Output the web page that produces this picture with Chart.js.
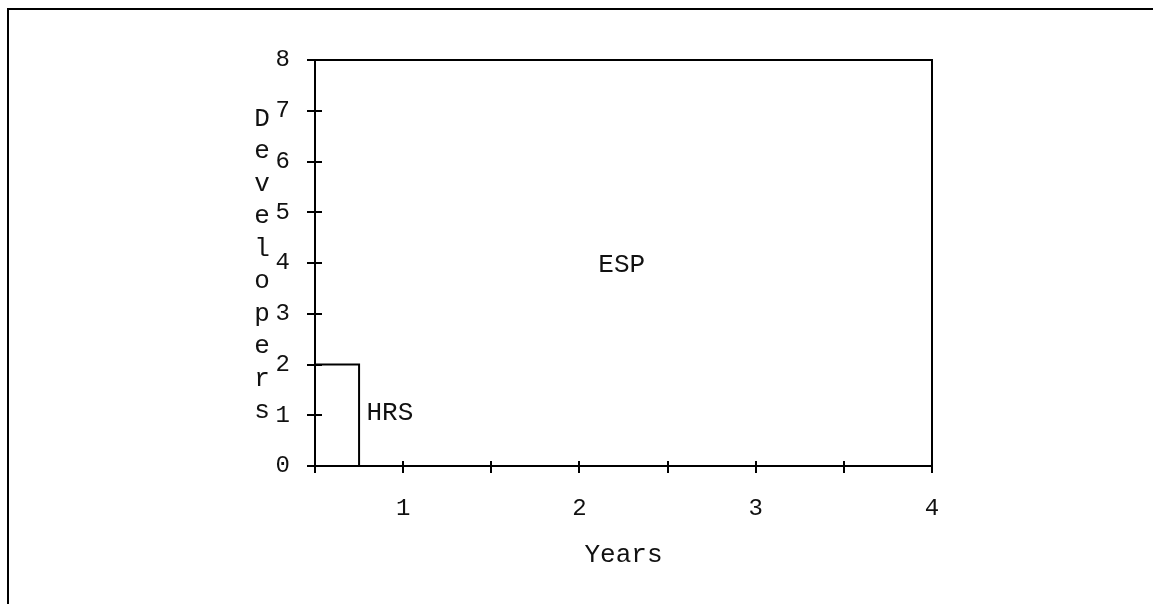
<!DOCTYPE html>
<html><head><meta charset="utf-8">
<script src="https://cdn.jsdelivr.net/npm/chart.js@4.4.1/dist/chart.umd.min.js"></script>
<style>html,body{margin:0;padding:0;background:#fff;} canvas{display:block;}</style>
</head><body>
<canvas id="c" width="1153" height="604"></canvas>
<script>
// ---- data ----
const xTickLabels = ['1', '2', '3', '4'];          // labelled years
const hrsX = [0.5, 0.75, 0.75];                     // HRS staffing step
const hrsY = [2, 2, 0];
const regionLabels = ['ESP', 'HRS'];
const regionLabelX = [2.24, 0.925];
const regionLabelY = [3.95, 1.05];
const xTitle = 'Years';
const yTitle = 'Developers';

const FONT = '"Liberation Mono", "Courier New", monospace';

const decor = {
  id: 'decor',
  beforeDraw(chart) {
    const ctx = chart.ctx;
    ctx.save();
    ctx.fillStyle = '#fff';
    ctx.fillRect(0, 0, chart.width, chart.height);
    ctx.strokeStyle = '#000';
    ctx.lineWidth = 2;
    ctx.beginPath();
    ctx.moveTo(8, chart.height);
    ctx.lineTo(8, 9);
    ctx.lineTo(chart.width, 9);
    ctx.stroke();
    ctx.restore();
  },
  afterDraw(chart) {
    const { ctx, chartArea: a, scales: { x, y } } = chart;
    ctx.save();
    ctx.strokeStyle = '#000';
    ctx.lineWidth = 2;
    ctx.strokeRect(a.left, a.top, a.right - a.left, a.bottom - a.top);
    ctx.beginPath();
    x.ticks.forEach(t => {
      const px = Math.round(x.getPixelForValue(t.value));
      ctx.moveTo(px, a.bottom - 5); ctx.lineTo(px, a.bottom + 7);
    });
    y.ticks.forEach(t => {
      const py = Math.round(y.getPixelForValue(t.value));
      ctx.moveTo(a.left - 8, py); ctx.lineTo(a.left + 7, py);
    });
    ctx.stroke();

    ctx.fillStyle = '#111';
    ctx.font = '26px ' + FONT;
    ctx.textAlign = 'center';
    ctx.textBaseline = 'alphabetic';
    const letters = yTitle.split('');
    const step = 32.5;
    const mid = (a.top + a.bottom) / 2;
    const first = mid + 9 - step * (letters.length - 1) / 2;
    letters.forEach((ch, i) => ctx.fillText(ch, 262, first + i * step));

    ctx.textBaseline = 'middle';
    regionLabels.forEach((txt, i) => {
      ctx.fillText(txt, x.getPixelForValue(regionLabelX[i]), y.getPixelForValue(regionLabelY[i]));
    });
    ctx.restore();
  }
};

new Chart(document.getElementById('c'), {
  type: 'scatter',
  data: {
    datasets: [{
      label: 'HRS',
      data: hrsX.map((v, i) => ({ x: v, y: hrsY[i] })),
      showLine: true,
      borderColor: '#000',
      borderWidth: 2,
      pointRadius: 0,
      fill: false,
      tension: 0
    }]
  },
  options: {
    responsive: false,
    animation: false,
    devicePixelRatio: 1,
    layout: { padding: { left: 0, right: 221, top: 60, bottom: 0 } },
    plugins: { legend: { display: false }, tooltip: { enabled: false } },
    scales: {
      x: {
        type: 'linear',
        min: 0.5, max: 4,
        grid: { display: false, drawTicks: false },
        border: { display: false },
        ticks: {
          stepSize: 0.5,
          padding: 28,
          color: '#111',
          font: { family: FONT, size: 24 },
          maxRotation: 0,
          autoSkip: false,
          callback: (v) => Number.isInteger(v) ? xTickLabels[xTickLabels.indexOf(String(v))] ?? '' : ''
        },
        title: {
          display: true, text: xTitle, color: '#111',
          font: { family: FONT, size: 26 },
          padding: { top: 0, bottom: 33 }
        },
        afterFit: (s) => { s.height = 138; }
      },
      y: {
        type: 'linear',
        min: 0, max: 8,
        grid: { display: false, drawTicks: false },
        border: { display: false },
        ticks: {
          stepSize: 1,
          padding: 25,
          color: '#111',
          font: { family: FONT, size: 24 }
        },
        afterFit: (s) => { s.width = 315; }
      }
    }
  },
  plugins: [decor]
});
</script>
</body></html>
